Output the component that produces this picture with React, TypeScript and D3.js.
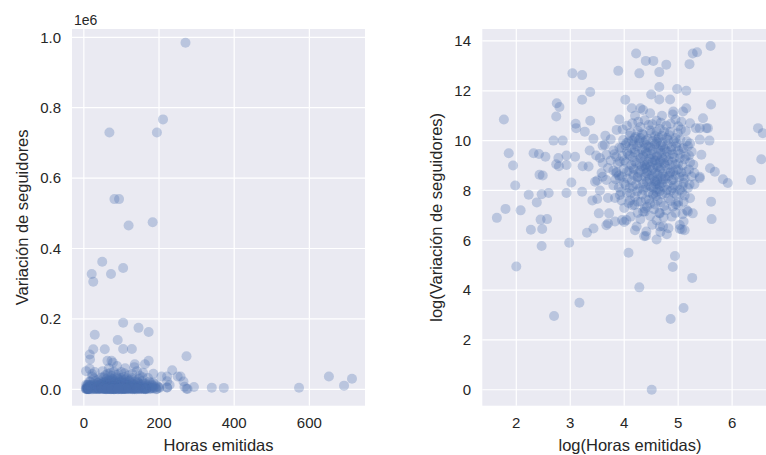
import React from 'react';
import * as d3 from 'd3';

// log(Horas emitidas), log(Variación de seguidores) — puntos aislados
const puntosDispersos: [number, number][] = [
  [1.77, 10.85], [1.86, 9.49], [1.94, 9.0], [1.98, 8.2], [1.8, 7.26], [1.64, 6.9],
  [2.08, 7.2], [2.0, 4.95], [2.23, 7.83], [2.38, 7.52], [2.45, 6.83], [2.57, 6.85],
  [2.27, 6.42], [2.48, 6.45], [2.47, 5.77], [2.98, 5.9], [2.43, 8.63], [2.49, 8.6],
  [2.47, 7.85], [2.6, 7.9], [2.32, 9.49], [2.42, 9.46], [2.54, 9.35], [2.74, 9.05],
  [2.79, 8.97], [2.78, 9.3], [2.93, 9.4], [2.93, 9.02], [3.02, 8.32], [2.93, 7.9],
  [3.22, 7.95], [3.09, 9.35], [3.23, 8.97], [3.36, 9.6], [3.48, 9.4], [3.6, 9.8],
  [2.69, 10.0], [2.86, 10.0], [3.43, 10.07], [3.1, 10.68], [3.11, 10.5], [3.37, 10.8],
  [3.27, 10.36], [2.74, 10.97], [2.75, 11.5], [2.8, 11.35], [3.22, 11.64], [3.37, 11.95],
  [3.04, 12.7], [3.22, 12.63], [3.31, 6.3], [3.43, 6.47], [3.53, 7.08], [3.34, 8.96],
  [3.5, 8.4], [3.55, 8.0], [3.7, 7.7], [3.72, 7.08], [3.83, 6.75], [3.67, 6.6],
  [3.5, 7.66], [3.83, 7.7], [3.41, 7.6], [3.46, 8.35], [3.6, 8.55], [3.85, 8.7],
  [3.7, 6.67], [4.0, 6.73], [3.17, 3.49], [2.7, 2.96],
  [3.89, 12.8], [4.22, 13.5], [4.28, 12.7], [4.4, 13.2], [4.54, 13.2], [4.65, 12.75],
  [4.78, 13.05], [4.65, 12.15], [4.5, 11.85], [4.65, 11.65], [4.85, 11.65], [4.98, 12.07],
  [5.15, 12.0], [5.21, 13.07], [5.27, 13.5], [5.35, 13.55], [5.6, 13.8], [5.61, 11.45],
  [4.02, 11.64], [4.14, 11.3], [4.3, 11.3], [3.91, 10.85], [3.97, 10.45], [5.46, 10.9],
  [5.4, 10.5], [5.55, 10.5], [5.58, 10.0],
  [6.48, 10.5], [6.57, 10.3], [6.54, 9.25], [5.68, 8.75], [5.83, 8.45], [5.92, 8.3],
  [6.35, 8.42], [5.61, 7.55], [5.62, 6.85],
  [4.2, 6.4], [4.37, 6.16], [4.08, 5.5], [4.6, 6.03], [4.67, 6.33], [4.79, 6.24],
  [4.94, 5.37], [4.9, 4.93], [5.26, 4.49], [4.28, 4.11], [4.86, 2.84], [5.1, 3.28],
  [4.51, 0.0], [5.07, 6.43], [5.12, 6.4],
  [5.43, 9.43], [5.4, 8.55], [5.27, 7.08], [5.03, 6.45], [4.4, 6.17], [4.04, 6.81],
  [4.38, 7.15], [4.65, 7.1], [4.9, 7.35], [5.18, 7.15], [4.72, 6.55],
  [4.91, 11.17], [5.09, 11.17], [4.35, 11.23], [3.86, 10.43], [4.26, 10.76], [4.45, 10.63],
  [5.06, 10.76], [5.22, 10.7], [5.33, 10.5], [5.52, 10.5],
  [3.64, 9.83], [3.67, 9.43], [4.04, 9.9], [4.17, 9.84], [4.35, 10.23], [4.6, 10.37],
  [4.79, 10.1], [4.97, 9.9], [5.16, 9.97], [5.4, 10.04], [5.59, 8.89], [3.92, 9.16],
  [4.35, 9.43], [4.6, 9.36], [4.79, 9.56], [5.03, 9.3], [5.28, 9.03], [4.17, 8.89],
  [4.54, 8.89], [4.91, 8.76],
  [3.67, 8.42], [3.92, 8.49], [4.17, 8.62], [4.41, 8.7], [4.6, 8.36], [4.85, 8.7],
  [5.09, 8.56], [5.4, 8.49], [3.96, 6.81], [4.11, 7.6], [4.35, 7.15], [4.48, 7.47],
  [4.66, 7.08], [4.88, 6.95], [5.16, 7.2], [5.03, 6.61], [4.82, 6.48], [4.66, 6.55],
  [4.41, 6.35], [4.23, 6.55], [3.92, 7.82], [4.79, 8.02], [5.03, 8.02], [5.22, 7.69],
  [4.35, 8.02], [4.54, 7.82],
  [3.6, 9.1], [3.7, 8.9], [3.55, 9.3], [3.65, 10.2], [3.75, 10.05], [3.58, 8.7],
];

// núcleo denso de la nube
const puntosNucleo: [number, number][] = [
  [4.1, 10.2], [4.25, 10.4], [4.4, 10.0], [4.5, 10.3], [4.7, 10.2], [4.85, 10.35], [4.95, 10.1],
  [5.05, 10.45], [4.3, 10.1], [4.62, 10.05],
  [3.8, 9.6], [3.95, 9.7], [4.05, 9.55], [4.2, 9.65], [4.28, 9.9], [4.45, 9.75], [4.52, 9.6],
  [4.68, 9.8], [4.75, 9.65], [4.88, 9.75], [5.0, 9.6], [5.1, 9.7], [5.25, 9.55], [4.4, 9.55],
  [4.6, 9.95], [4.15, 10.0],
  [3.75, 9.2], [3.85, 9.35], [4.0, 9.2], [4.1, 9.4], [4.22, 9.1], [4.3, 9.3], [4.45, 9.15],
  [4.5, 9.45], [4.65, 9.1], [4.7, 9.3], [4.82, 9.2], [4.9, 9.45], [4.95, 9.05], [5.12, 9.25],
  [5.2, 9.4], [4.38, 9.0], [4.58, 9.2], [4.76, 9.0],
  [3.8, 8.8], [3.9, 8.6], [4.05, 8.75], [4.25, 8.55], [4.3, 8.8], [4.45, 8.6], [4.62, 8.65],
  [4.68, 8.9], [4.75, 8.55], [4.95, 8.6], [5.0, 8.85], [5.15, 8.75], [5.3, 8.7], [4.48, 8.95],
  [4.55, 8.5],
  [3.8, 8.2], [4.0, 8.3], [4.1, 8.1], [4.22, 8.25], [4.42, 8.35], [4.5, 8.15], [4.62, 8.05],
  [4.7, 8.3], [4.72, 8.45], [4.88, 8.4], [4.92, 8.2], [5.1, 8.3], [5.18, 8.1], [5.3, 8.25],
  [4.58, 8.25], [4.66, 8.15],
  [3.95, 7.6], [4.05, 7.9], [4.2, 7.75], [4.25, 7.55], [4.4, 7.65], [4.62, 7.6], [4.7, 7.85],
  [4.82, 7.7], [4.92, 7.9], [5.0, 7.55], [5.12, 7.8], [4.6, 7.95],
  [4.0, 7.3], [4.15, 7.4], [4.25, 7.1], [4.55, 7.25], [4.78, 7.2], [5.0, 7.4], [5.08, 7.05],
  [4.42, 7.35],
  [4.05, 10.6], [4.6, 10.8], [4.78, 10.6], [4.95, 10.85], [4.2, 11.0], [4.7, 11.0],
  [4.12, 10.32], [4.33, 10.28], [4.48, 10.41], [4.57, 10.18], [4.74, 10.36], [4.83, 10.22],
  [4.99, 10.3], [5.14, 10.38], [4.21, 10.15], [4.66, 10.47],
  [3.98, 10.02], [4.08, 9.95], [4.19, 10.08], [4.36, 9.92], [4.44, 10.06], [4.53, 9.98],
  [4.64, 10.12], [4.71, 9.93], [4.81, 10.02], [4.92, 9.97], [5.04, 10.05], [5.22, 9.88],
  [4.27, 10.01], [4.58, 9.86],
  [3.91, 9.72], [4.02, 9.81], [4.13, 9.68], [4.24, 9.77], [4.33, 9.63], [4.41, 9.82],
  [4.49, 9.7], [4.56, 9.79], [4.63, 9.66], [4.72, 9.74], [4.8, 9.84], [4.87, 9.62],
  [4.96, 9.76], [5.07, 9.67], [5.18, 9.78], [4.38, 9.71], [4.67, 9.58],
  [3.82, 9.45], [3.97, 9.38], [4.07, 9.47], [4.16, 9.33], [4.26, 9.44], [4.35, 9.36],
  [4.43, 9.49], [4.53, 9.32], [4.61, 9.41], [4.69, 9.5], [4.77, 9.35], [4.85, 9.44],
  [4.93, 9.31], [5.03, 9.46], [5.14, 9.36], [4.47, 9.27], [4.73, 9.24], [4.2, 9.52],
  [3.88, 9.08], [4.03, 9.13], [4.13, 9.02], [4.19, 9.18], [4.29, 9.07], [4.37, 9.16],
  [4.42, 9.04], [4.52, 9.12], [4.6, 9.01], [4.67, 9.17], [4.74, 9.09], [4.84, 9.03],
  [4.89, 9.14], [5.0, 9.08], [5.08, 9.0], [5.22, 9.12], [4.56, 9.21], [4.33, 8.96],
  [3.86, 8.74], [3.99, 8.86], [4.09, 8.78], [4.18, 8.83], [4.27, 8.71], [4.36, 8.85],
  [4.43, 8.77], [4.51, 8.82], [4.58, 8.72], [4.66, 8.8], [4.71, 8.68], [4.8, 8.86],
  [4.86, 8.75], [4.97, 8.81], [5.06, 8.72], [5.2, 8.84], [4.4, 8.92], [4.62, 8.93],
  [3.84, 8.45], [3.96, 8.56], [4.06, 8.48], [4.14, 8.41], [4.24, 8.52], [4.32, 8.44],
  [4.39, 8.55], [4.47, 8.46], [4.52, 8.58], [4.61, 8.43], [4.69, 8.54], [4.77, 8.47],
  [4.83, 8.58], [4.91, 8.44], [5.02, 8.52], [5.12, 8.47], [5.25, 8.56], [4.57, 8.36],
  [3.9, 8.12], [4.03, 8.22], [4.16, 8.16], [4.28, 8.08], [4.35, 8.27], [4.46, 8.2],
  [4.54, 8.11], [4.64, 8.24], [4.73, 8.14], [4.81, 8.26], [4.9, 8.09], [4.99, 8.21],
  [5.08, 8.14], [5.21, 8.24], [4.4, 8.13],
  [3.94, 7.95], [4.12, 7.88], [4.24, 7.96], [4.33, 7.84], [4.45, 7.93], [4.53, 7.86],
  [4.66, 7.97], [4.77, 7.89], [4.86, 7.98], [4.97, 7.83], [5.07, 7.92], [4.59, 7.78],
  [4.08, 7.5], [4.19, 7.42], [4.31, 7.55], [4.46, 7.62], [4.57, 7.44], [4.68, 7.53],
  [4.74, 7.38], [4.86, 7.58], [4.96, 7.45], [5.1, 7.55], [4.38, 7.28],
  [4.12, 6.95], [4.3, 6.85], [4.48, 6.98], [4.6, 6.8], [4.73, 6.92], [4.95, 7.1], [5.1, 6.75],
  [4.52, 6.62],
  [4.15, 10.7], [4.38, 10.82], [4.52, 10.66], [4.68, 10.72], [4.86, 10.68], [5.0, 10.58],
  [4.3, 10.55], [4.9, 11.05], [4.48, 11.1], [5.15, 11.3],
];

const ticksHoras = [0, 200, 400, 600];
const ticksSeguidores = [0, 0.2, 0.4, 0.6, 0.8, 1.0];
const ticksLogHoras = [2, 3, 4, 5, 6];
const ticksLogSeguidores = [0, 2, 4, 6, 8, 10, 12, 14];

const FONT = '"Liberation Sans", Arial, sans-serif';
const BG = '#EAEAF2';
const COLOR = '#4C72B0';
const TXT = '#262626';

export default function App() {
  const W = 766, H = 455;
  const top = 29, bottom = 405.7;
  const puntos = [...puntosDispersos, ...puntosNucleo];
  const brutos = puntos.map(([lx, ly]) => [Math.exp(lx), Math.exp(ly)] as [number, number]);

  const L = { x0: 72, x1: 365 };
  const R = { x0: 482.3, x1: 775.3 };

  const xL = d3.scaleLinear().domain([-31.5, 748]).range([L.x0, L.x1]);
  const yL = d3.scaleLinear().domain([-0.0466e6, 1.0236e6]).range([bottom, top]);
  const xR = d3.scaleLinear().domain([1.37, 6.8]).range([R.x0, R.x1]);
  const yR = d3.scaleLinear().domain([-0.64, 14.48]).range([bottom, top]);

  const fmt1 = d3.format('.1f');

  return (
    <svg width={W} height={H} style={{ position: 'absolute', left: 0, top: 0, background: '#fff' }}
      fontFamily={FONT}>
      <defs>
        <clipPath id="clipL"><rect x={L.x0} y={top} width={L.x1 - L.x0} height={bottom - top} /></clipPath>
        <clipPath id="clipR"><rect x={R.x0} y={top} width={R.x1 - R.x0} height={bottom - top} /></clipPath>
      </defs>

      {/* Panel izquierdo */}
      <rect x={L.x0} y={top} width={L.x1 - L.x0} height={bottom - top} fill={BG} />
      {ticksHoras.map(t => (
        <line key={'gx' + t} x1={xL(t)} x2={xL(t)} y1={top} y2={bottom} stroke="#fff" strokeWidth={1.2} />
      ))}
      {ticksSeguidores.map(t => (
        <line key={'gy' + t} x1={L.x0} x2={L.x1} y1={yL(t * 1e6)} y2={yL(t * 1e6)} stroke="#fff" strokeWidth={1.2} />
      ))}
      <g clipPath="url(#clipL)">
        {brutos.map(([h, v], i) => (
          <circle key={i} cx={xL(h)} cy={yL(v)} r={5} fill={COLOR} fillOpacity={0.3} />
        ))}
      </g>
      {ticksHoras.map(t => (
        <text key={'tx' + t} x={xL(t)} y={428} textAnchor="middle" fontSize={15} fill={TXT}>{t}</text>
      ))}
      {ticksSeguidores.map(t => (
        <text key={'ty' + t} x={61} y={yL(t * 1e6)} dy="0.35em" textAnchor="end" fontSize={15} fill={TXT}>{fmt1(t)}</text>
      ))}
      <text x={74} y={25} fontSize={14} fill={TXT}>1e6</text>
      <text x={(L.x0 + L.x1) / 2} y={451} textAnchor="middle" fontSize={16.5} fill={TXT}>Horas emitidas</text>
      <text transform={`translate(28,${(top + bottom) / 2}) rotate(-90)`} textAnchor="middle" fontSize={16.5} fill={TXT}>Variación de seguidores</text>

      {/* Panel derecho */}
      <rect x={R.x0} y={top} width={R.x1 - R.x0} height={bottom - top} fill={BG} />
      {ticksLogHoras.map(t => (
        <line key={'rgx' + t} x1={xR(t)} x2={xR(t)} y1={top} y2={bottom} stroke="#fff" strokeWidth={1.2} />
      ))}
      {ticksLogSeguidores.map(t => (
        <line key={'rgy' + t} x1={R.x0} x2={R.x1} y1={yR(t)} y2={yR(t)} stroke="#fff" strokeWidth={1.2} />
      ))}
      <g clipPath="url(#clipR)">
        {puntos.map(([lx, ly], i) => (
          <circle key={i} cx={xR(lx)} cy={yR(ly)} r={5} fill={COLOR} fillOpacity={0.3} />
        ))}
      </g>
      {ticksLogHoras.map(t => (
        <text key={'rtx' + t} x={xR(t)} y={428} textAnchor="middle" fontSize={15} fill={TXT}>{t}</text>
      ))}
      {ticksLogSeguidores.map(t => (
        <text key={'rty' + t} x={471} y={yR(t)} dy="0.35em" textAnchor="end" fontSize={15} fill={TXT}>{t}</text>
      ))}
      <text x={630} y={451} textAnchor="middle" fontSize={16.5} fill={TXT}>log(Horas emitidas)</text>
      <text transform={`translate(442,${(top + bottom) / 2}) rotate(-90)`} textAnchor="middle" fontSize={16.5} fill={TXT}>log(Variación de seguidores)</text>
    </svg>
  );
}
